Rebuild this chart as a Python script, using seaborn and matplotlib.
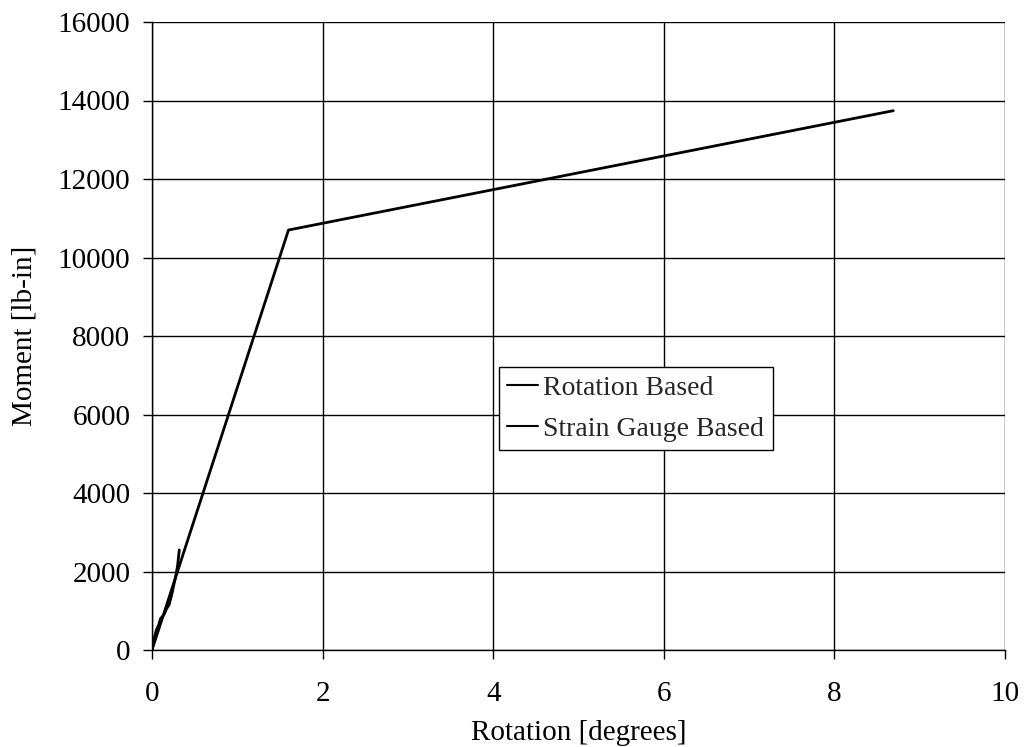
import matplotlib
matplotlib.use("Agg")
import matplotlib.pyplot as plt
import seaborn as sns
import pandas as pd

# Data
rot_x = [0.0, 1.60, 8.69]
rot_y = [0, 10700, 13740]

sg_x = [0.0, 0.02, 0.05, 0.08, 0.10, 0.14, 0.17, 0.20, 0.23, 0.26, 0.28, 0.30, 0.31, 0.32]
sg_y = [0, 250, 500, 650, 800, 900, 1050, 1150, 1400, 1700, 1900, 2150, 2350, 2550]

x_ticks = [0, 2, 4, 6, 8, 10]
y_ticks = [0, 2000, 4000, 6000, 8000, 10000, 12000, 14000, 16000]

df = pd.concat([
    pd.DataFrame({"x": rot_x, "y": rot_y, "series": "Rotation Based"}),
    pd.DataFrame({"x": sg_x, "y": sg_y, "series": "Strain Gauge Based"}),
], ignore_index=True)

sns.set_theme(style="white")
plt.rcParams["font.family"] = ["Liberation Serif", "DejaVu Serif"]

fig = plt.figure(figsize=(10.30, 7.47), dpi=100)
ax = fig.add_axes([152/1030, 1 - 650/747, (1005-152)/1030, (650-22)/747])

sns.lineplot(data=df, x="x", y="y", hue="series", sort=False, estimator=None,
             palette={"Rotation Based": "black", "Strain Gauge Based": "black"},
             linewidth=2.0, ax=ax, legend=True)

ax.set_xlim(0, 10)
ax.set_ylim(0, 16000)
ax.set_xticks(x_ticks)
ax.set_yticks(y_ticks)
ax.set_xticklabels([str(t) for t in x_ticks])
ax.set_yticklabels([str(t) for t in y_ticks])
ax.grid(True, color="black", linewidth=1.0)
ax.set_axisbelow(True)
for s in ["top", "right"]:
    ax.spines[s].set_visible(False)
for s in ["left", "bottom"]:
    ax.spines[s].set_color("black")
    ax.spines[s].set_linewidth(1.0)
ax.tick_params(axis="both", direction="out", length=6.5, width=1, color="black",
               labelsize=21, labelcolor="black", bottom=True, left=True)
ax.tick_params(axis="x", pad=16)
ax.tick_params(axis="y", pad=9)
ax.set_xlabel("Rotation [degrees]", fontsize=21, color="black")
ax.set_ylabel("Moment [lb-in]", fontsize=21, color="black")
ax.xaxis.set_label_coords(0.5, -0.112)
ax.yaxis.set_label_coords(-0.134, 0.5)

leg = ax.legend(loc="center left", bbox_to_anchor=(0.4068, 0.384), fontsize=20,
                frameon=True, fancybox=False, edgecolor="black", framealpha=1,
                handlelength=1.1, handletextpad=0.2, borderpad=0.3,
                labelspacing=0.55, borderaxespad=0)
leg.get_frame().set_linewidth(1.0)
for line in leg.get_lines():
    line.set_linewidth(1.5)

fig.savefig("out.png", dpi=100)
